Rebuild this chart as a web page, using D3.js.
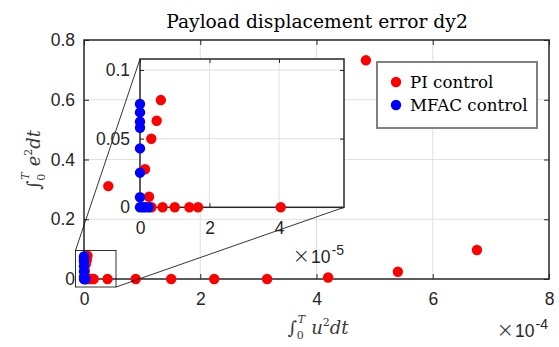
<!DOCTYPE html>
<html><head><meta charset="utf-8">
<script src="https://cdn.jsdelivr.net/npm/d3@7"></script>
<style>
body{margin:0;background:#fff;}
svg{display:block;}
.tick text{font-family:"Liberation Sans",Arial,sans-serif;fill:#262626;}
</style></head>
<body><svg id="c" width="559" height="347"></svg>
<script>
// ---- data ----
const piX = [4.18e-5, 8.9e-5, 1.5e-4, 2.24e-4, 3.15e-4, 4.2e-4, 5.4e-4, 6.76e-4, 4.85e-4,
             4.05e-5, 1.67e-5, 1.42e-5, 1.0e-5, 6.5e-6, 3.3e-6, 2.6e-6, 1.44e-6, 3.25e-6, 4.8e-6, 6.0e-6];
const piY = [0.311, 0, 0, 0, 0, 0.005, 0.0244, 0.0971, 0.732,
             0, 0, 0, 0, 0, 0, 0.0077, 0.0277, 0.0499, 0.063, 0.0781];
const mfacX = [0, 0, 0, 0, 0, 0, 0, 0, 0.8e-6, 1.6e-6, 2.5e-6];
const mfacY = [0.0752, 0.0691, 0.0623, 0.0579, 0.0429, 0.0252, 0.0073, 0, 0, 0, 0];
const mainXTicks = [0, 2e-4, 4e-4, 6e-4, 8e-4];
const mainYTicks = [0, 0.2, 0.4, 0.6, 0.8];
const insetXTicks = [0, 2e-5, 4e-5];
const insetYTicks = [0, 0.05, 0.1];
const seriesNames = ["PI control", "MFAC control"];
const seriesColors = ["#ff0000", "#0000ff"];
const titleText = "Payload displacement error dy2";

const svg = d3.select("#c");
const axisCol = "#262626", gridCol = "#e0e0e0";

function drawAxes(g, x, y, xt, yt, xfmt, yfmt, fs, tickLen, padX, padY) {
  const [x0, x1] = x.range(), [y0, y1] = y.range();
  g.append("g").selectAll("line").data(xt.filter(v => v > x.domain()[0] && v < x.domain()[1])).join("line")
    .attr("x1", d => x(d)).attr("x2", d => x(d)).attr("y1", y0).attr("y2", y1)
    .attr("stroke", gridCol).attr("stroke-width", 1);
  g.append("g").selectAll("line").data(yt.filter(v => v > y.domain()[0] && v < y.domain()[1])).join("line")
    .attr("y1", d => y(d)).attr("y2", d => y(d)).attr("x1", x0).attr("x2", x1)
    .attr("stroke", gridCol).attr("stroke-width", 1);
  const bx = g.append("g").attr("transform", `translate(0,${y0})`)
    .call(d3.axisBottom(x).tickValues(xt).tickFormat(xfmt).tickSizeInner(-tickLen).tickSizeOuter(0).tickPadding(padX));
  const tx = g.append("g").attr("transform", `translate(0,${y1})`)
    .call(d3.axisTop(x).tickValues(xt).tickFormat("").tickSizeInner(-tickLen).tickSizeOuter(0));
  const ly = g.append("g").attr("transform", `translate(${x0},0)`)
    .call(d3.axisLeft(y).tickValues(yt).tickFormat(yfmt).tickSizeInner(-tickLen).tickSizeOuter(0).tickPadding(padY));
  const ry = g.append("g").attr("transform", `translate(${x1},0)`)
    .call(d3.axisRight(y).tickValues(yt).tickFormat("").tickSizeInner(-tickLen).tickSizeOuter(0));
  [bx, tx, ly, ry].forEach(a => {
    a.select(".domain").remove();
    a.selectAll(".tick line").attr("stroke", axisCol);
    a.selectAll("text").attr("font-size", fs);
  });
  g.append("rect").attr("x", x0).attr("y", y1).attr("width", x1 - x0).attr("height", y0 - y1)
    .attr("fill", "none").attr("stroke", axisCol).attr("stroke-width", 1.5);
}

function drawPoints(g, x, y) {
  const [dx0, dx1] = x.domain(), [dy0, dy1] = y.domain();
  const inside = (a, b) => a >= dx0 && a <= dx1 && b >= dy0 && b <= dy1;
  [[piX, piY], [mfacX, mfacY]].forEach(([xs, ys], k) => {
    const pts = xs.map((v, i) => [v, ys[i]]).filter(p => inside(p[0], p[1]));
    g.append("g").selectAll("circle").data(pts).join("circle")
      .attr("cx", d => x(d[0])).attr("cy", d => y(d[1])).attr("r", 5.2)
      .attr("fill", seriesColors[k]);
  });
}

function expLabel(xr, yb, exp) {
  const t = svg.append("text").attr("x", xr).attr("y", yb).attr("text-anchor", "end")
    .attr("font-family", "Liberation Sans, Arial, sans-serif").attr("font-size", 17.5).attr("fill", axisCol);
  t.append("tspan").attr("font-size", 21).attr("font-family", "DejaVu Sans, sans-serif").attr("font-weight", 300).text("×");
  t.append("tspan").attr("dx", 1).text("10");
  t.append("tspan").attr("dx", 1).attr("dy", -8).attr("font-size", 14).text(exp);
}

// ---- main axes ----
const X = d3.scaleLinear().domain([0, 8e-4]).range([84, 549]);
const Y = d3.scaleLinear().domain([0, 0.8]).range([279, 40]);
const main = svg.append("g");
drawAxes(main, X, Y, mainXTicks, mainYTicks, d => d3.format("~g")(d * 1e4), d => d3.format("~g")(d), 17.5, 5, 14, 9);
drawPoints(main, X, Y);
expLabel(548, 337, "-4");

// ---- zoom rectangle and connector lines ----
const zr = {x0: 75.5, x1: 116, y0: 250.5, y1: 287};
const IX = d3.scaleLinear().domain([0, 5.87e-5]).range([140, 344]);
const IY = d3.scaleLinear().domain([0, 0.108]).range([207.3, 59]);
svg.append("rect").attr("x", zr.x0).attr("y", zr.y0).attr("width", zr.x1 - zr.x0).attr("height", zr.y1 - zr.y0)
  .attr("fill", "none").attr("stroke", "#000").attr("stroke-width", 0.8);
svg.append("line").attr("x1", zr.x0).attr("y1", zr.y0).attr("x2", IX.range()[0]).attr("y2", IY.range()[1])
  .attr("stroke", "#000").attr("stroke-width", 0.8);
svg.append("line").attr("x1", zr.x1).attr("y1", zr.y1).attr("x2", IX.range()[1]).attr("y2", IY.range()[0])
  .attr("stroke", "#000").attr("stroke-width", 0.8);

// ---- inset axes ----
const inset = svg.append("g");
inset.append("rect").attr("x", 140).attr("y", 59).attr("width", 204).attr("height", 148.3).attr("fill", "#fff");
drawAxes(inset, IX, IY, insetXTicks, insetYTicks, d => d3.format("~g")(d * 1e5), d => d3.format("~g")(d), 17.5, 4, 14, 10);
drawPoints(inset, IX, IY);
expLabel(344, 263, "-5");

// ---- title ----
const serif = "DejaVu Serif, serif";
svg.append("text").attr("x", 317).attr("y", 28).attr("text-anchor", "middle")
  .attr("font-family", serif).attr("font-size", 18.7).attr("fill", "#000").text(titleText);

// ---- axis labels (math) ----
function mathLabel(t, v) {
  t.attr("font-family", serif).attr("font-size", 18).attr("fill", "#3a3a3a");
  t.append("tspan").attr("font-style", "normal").text("∫");
  t.append("tspan").attr("font-size", 11).attr("dy", 5).text("0");
  t.append("tspan").attr("font-size", 11).attr("font-style", "italic").attr("dx", -6).attr("dy", -16).text("T");
  t.append("tspan").attr("font-style", "italic").attr("dx", 6).attr("dy", 11).text(v);
  t.append("tspan").attr("font-size", 11).attr("dy", -8).text("2");
  t.append("tspan").attr("font-style", "italic").attr("dy", 8).text("dt");
}
mathLabel(svg.append("text").attr("x", 318).attr("y", 334).attr("text-anchor", "middle"), "u");
mathLabel(svg.append("text").attr("transform", "translate(40,160) rotate(-90)").attr("text-anchor", "middle"), "e");

// ---- legend ----
const leg = svg.append("g");
leg.append("rect").attr("x", 377).attr("y", 62).attr("width", 160).attr("height", 66)
  .attr("fill", "#fff").attr("stroke", "#808080").attr("stroke-width", 2);
seriesNames.forEach((n, i) => {
  const cy = 82 + i * 23;
  leg.append("circle").attr("cx", 396).attr("cy", cy).attr("r", 5.2).attr("fill", seriesColors[i]);
  leg.append("text").attr("x", 410).attr("y", cy + 6).attr("font-family", serif).attr("font-size", 16.7)
    .attr("fill", "#000").text(n);
});
</script></body></html>
